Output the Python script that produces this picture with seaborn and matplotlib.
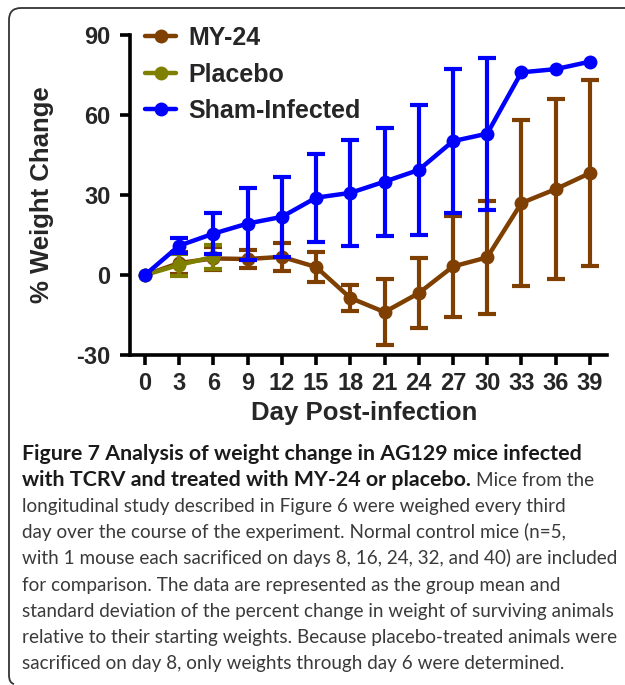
import numpy as np
import pandas as pd
import matplotlib
matplotlib.use("Agg")
import matplotlib.pyplot as plt
from matplotlib.path import Path
from matplotlib.patches import PathPatch
import seaborn as sns

# ---------------- data ----------------
days = [0, 3, 6, 9, 12, 15, 18, 21, 24, 27, 30, 33, 36, 39]
my24_mean = [0, 4.5, 6.2, 6.0, 6.8, 3.0, -8.6, -13.9, -6.8, 3.2, 6.6, 27.0, 32.2, 38.2]
my24_sd = [0, 4.0, 4.3, 3.5, 5.3, 5.8, 4.9, 12.3, 13.2, 19.0, 21.2, 31.2, 33.7, 35.0]
placebo_days = [0, 3, 6]
placebo_mean = [0, 3.8, 6.8]
placebo_sd = [0, 4.2, 4.5]
sham_mean = [0, 11.0, 15.5, 19.3, 21.8, 29.0, 30.8, 35.0, 39.4, 50.2, 53.0, 76.0, 77.2, 80.0]
sham_sd = [0, 2.8, 7.8, 13.5, 15.0, 16.5, 20.0, 20.3, 24.3, 27.0, 28.5, 0, 0, 0]

series_names = ["MY-24", "Placebo", "Sham-Infected"]
colors = {"MY-24": "#7f3f00", "Placebo": "#808000", "Sham-Infected": "#0000ff"}
y_ticks = [-30, 0, 30, 60, 90]
x_ticks = days
x_label = "Day Post-infection"
y_label = "% Weight Change"

caption_bold_1 = "Figure 7 Analysis of weight change in AG129 mice infected"
caption_bold_2 = "with TCRV and treated with MY-24 or placebo."
caption_reg_2 = "Mice from the"
caption_lines = [
    "longitudinal study described in Figure 6 were weighed every third",
    "day over the course of the experiment. Normal control mice (n=5,",
    "with 1 mouse each sacrificed on days 8, 16, 24, 32, and 40) are included",
    "for comparison. The data are represented as the group mean and",
    "standard deviation of the percent change in weight of surviving animals",
    "relative to their starting weights. Because placebo-treated animals were",
    "sacrificed on day 8, only weights through day 6 were determined.",
]

frames = {
    "MY-24": pd.DataFrame({"day": days, "mean": my24_mean, "sd": my24_sd}),
    "Placebo": pd.DataFrame({"day": placebo_days, "mean": placebo_mean, "sd": placebo_sd}),
    "Sham-Infected": pd.DataFrame({"day": days, "mean": sham_mean, "sd": sham_sd}),
}

# ---------------- figure ----------------
sns.set_style("ticks")
plt.rcParams["font.family"] = ["Liberation Sans", "DejaVu Sans"]
plt.rcParams["axes.unicode_minus"] = False

W, H = 625, 685
fig = plt.figure(figsize=(W / 100, H / 100), dpi=100)

def fx(px):
    return px / W

def fy(py):
    return 1 - py / H

ax_l, ax_r, ax_t, ax_b = 130, 607, 35, 355
ax = fig.add_axes([fx(ax_l), fy(ax_b), (ax_r - ax_l) / W, (ax_b - ax_t) / H])

for z, name in enumerate(series_names):
    df = frames[name]
    c = colors[name]
    sns.lineplot(data=df, x="day", y="mean", ax=ax, color=c, marker="o",
                 markersize=10, markeredgecolor=c, markeredgewidth=0,
                 linewidth=3.2, label=name, zorder=3 + z, legend=False)
    e = df[df["sd"] > 0]
    ax.errorbar(e["day"], e["mean"], yerr=e["sd"], fmt="none", ecolor=c,
                elinewidth=3.0, capsize=6.8, capthick=3.0, zorder=3 + z)

ax.set_xlim(-1.31, 40.5)
ax.set_ylim(-30, 90)
ax.set_xticks(x_ticks)
ax.set_yticks(y_ticks)
for s in ["top", "right"]:
    ax.spines[s].set_visible(False)
for s in ["left", "bottom"]:
    ax.spines[s].set_linewidth(2.6)
    ax.spines[s].set_color("black")
ax.tick_params(axis="both", direction="out", length=7, width=2.6, color="black",
               labelsize=17, pad=7)
ax.tick_params(axis="x", pad=5)
for lab in ax.get_xticklabels() + ax.get_yticklabels():
    lab.set_fontweight("bold")

ax.set_xlabel(x_label, fontsize=18.5, fontweight="bold")
ax.set_ylabel(y_label, fontsize=18.5, fontweight="bold")
ax.xaxis.label.set_va("center")
ax.yaxis.label.set_va("center")
ax.xaxis.set_label_coords((364 - ax_l) / (ax_r - ax_l), (ax_b - 413) / (ax_b - ax_t))
ax.yaxis.set_label_coords((42 - ax_l) / (ax_r - ax_l), 0.5)

handles, labels = ax.get_legend_handles_labels()
leg = ax.legend(handles, labels, loc="upper left",
                bbox_to_anchor=(fx(145), fy(26)), bbox_transform=fig.transFigure,
                frameon=False, borderpad=0, borderaxespad=0,
                handlelength=1.25, handletextpad=0.5, labelspacing=0.5,
                prop={"size": 18, "weight": "bold"})
leg.set_zorder(10)

# ---------------- border ----------------
verts = [(fx(625), fy(8)), (fx(21), fy(8)), (fx(9), fy(8)), (fx(9), fy(20)),
         (fx(9), fy(675)), (fx(9), fy(683)), (fx(14), fy(684))]
codes = [Path.MOVETO, Path.LINETO, Path.CURVE3, Path.CURVE3,
         Path.LINETO, Path.CURVE3, Path.CURVE3]
fig.patches.append(PathPatch(Path(verts, codes), transform=fig.transFigure,
                             fill=False, edgecolor="#333333", linewidth=1.3))

# ---------------- caption ----------------
renderer = fig.canvas.get_renderer()
cap_font = ["Lato", "DejaVu Sans"]
probe = fig.text(0, 0, caption_lines[4], fontsize=12, family=cap_font)
pw = probe.get_window_extent(renderer).width
probe.remove()
cap_size = 12 * 590 / pw
probe = fig.text(0, 0, caption_bold_1, fontsize=12, family=cap_font, fontweight="bold")
bw = probe.get_window_extent(renderer).width
probe.remove()
bold_size = 12 * 556 / bw

x0 = fx(22)
base0 = 460
step = 26.1
fig.text(x0, fy(base0), caption_bold_1, fontsize=bold_size, family=cap_font,
         fontweight="bold", color="#1a1a1a", va="baseline")
t2 = fig.text(x0, fy(base0 + step), caption_bold_2 + " ", fontsize=bold_size, family=cap_font,
              fontweight="bold", color="#1a1a1a", va="baseline")
bb = t2.get_window_extent(renderer)
fig.text(bb.x1 / W, fy(base0 + step), caption_reg_2, fontsize=cap_size, family=cap_font,
         color="#3a3a3a", va="baseline")
for i, line in enumerate(caption_lines):
    fig.text(x0, fy(base0 + step * (i + 2)), line, fontsize=cap_size, family=cap_font,
             color="#3a3a3a", va="baseline")

fig.savefig("out.png", dpi=100)
